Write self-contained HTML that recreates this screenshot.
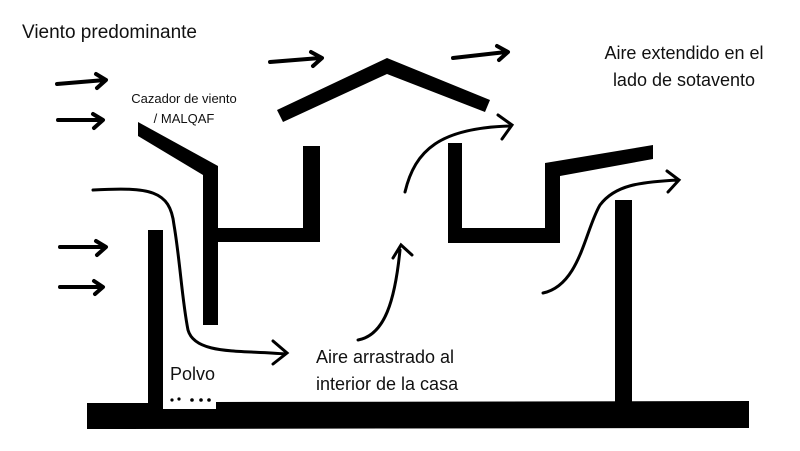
<!DOCTYPE html>
<html><head><style>
body{margin:0;background:#fff;}
svg{display:block;}
text{font-family:"Liberation Sans",sans-serif;fill:#111;}
</style></head><body>
<svg width="800" height="451" viewBox="0 0 800 451">
<g fill="#000">
<!-- slab -->
<polygon points="87,403 163,403 163,409 216,409 216,402 749,401 749,428 87,429"/>
<rect x="148" y="230" width="15" height="175"/>
<rect x="615" y="200" width="17" height="203"/>
<!-- malqaf -->
<polygon points="138,122 218,166 218,175 203,175 138,136"/>
<polygon points="203,168 218,166 218,228 303,228 303,146 320,146 320,242 218,242 218,325 203,325"/>
<!-- roof -->
<polygon points="277,110 283,122 387,74 485,112 490,100 387,58"/>
<!-- right U -->
<polygon points="448,143 462,143 462,228 545,228 545,163 653,145 653,159 560,176 560,243 448,243"/>
</g>
<g fill="none" stroke="#000" stroke-width="4" stroke-linecap="round" stroke-linejoin="round">
<path d="M57,84 L105,80 M96,74 L106,80 L97,88"/>
<path d="M58,120 L102,120 M93,114 L103,120 L94,128"/>
<path d="M60,247 L105,247 M96,241 L106,247 L97,255"/>
<path d="M60,287 L102,287 M94,281 L103,287 L95,294"/>
<path d="M270,62 L320,58 M311,52 L322,58 L313,66"/>
<path d="M453,58 L506,52 M497,46 L508,52 L499,60"/>
</g>
<g fill="none" stroke="#000" stroke-width="3" stroke-linecap="round">
<path d="M93,190 C150,187 170,190 174,225 C180,260 182,300 188,330 C195,355 240,350 285,354 M273,341 L287,353 L273,364"/>
<path d="M358,340 C385,335 395,300 400,250 M393,258 L401,245 L412,255"/>
<path d="M405,192 C415,150 440,128 510,126 M498,115 L512,125 L502,139"/>
<path d="M543,293 C580,285 585,230 600,205 C615,185 640,182 678,180 M667,171 L679,180 L668,192"/>
</g>
<g fill="#000"><circle cx="172" cy="400" r="1.6"/><circle cx="179" cy="399" r="1.6"/><circle cx="192" cy="400" r="1.8"/><circle cx="201" cy="400" r="1.8"/><circle cx="209" cy="400" r="1.8"/></g>
<text x="22" y="38" font-size="19">Viento predominante</text>
<text x="184" y="103" font-size="13" text-anchor="middle">Cazador de viento</text>
<text x="184" y="123" font-size="13" text-anchor="middle">/ MALQAF</text>
<text x="684" y="59" font-size="18" text-anchor="middle">Aire extendido en el</text>
<text x="684" y="86" font-size="18" text-anchor="middle">lado de sotavento</text>
<text x="316" y="363" font-size="18">Aire arrastrado al</text>
<text x="316" y="390" font-size="18">interior de la casa</text>
<text x="170" y="380" font-size="18">Polvo</text>
</svg>
</body></html>
